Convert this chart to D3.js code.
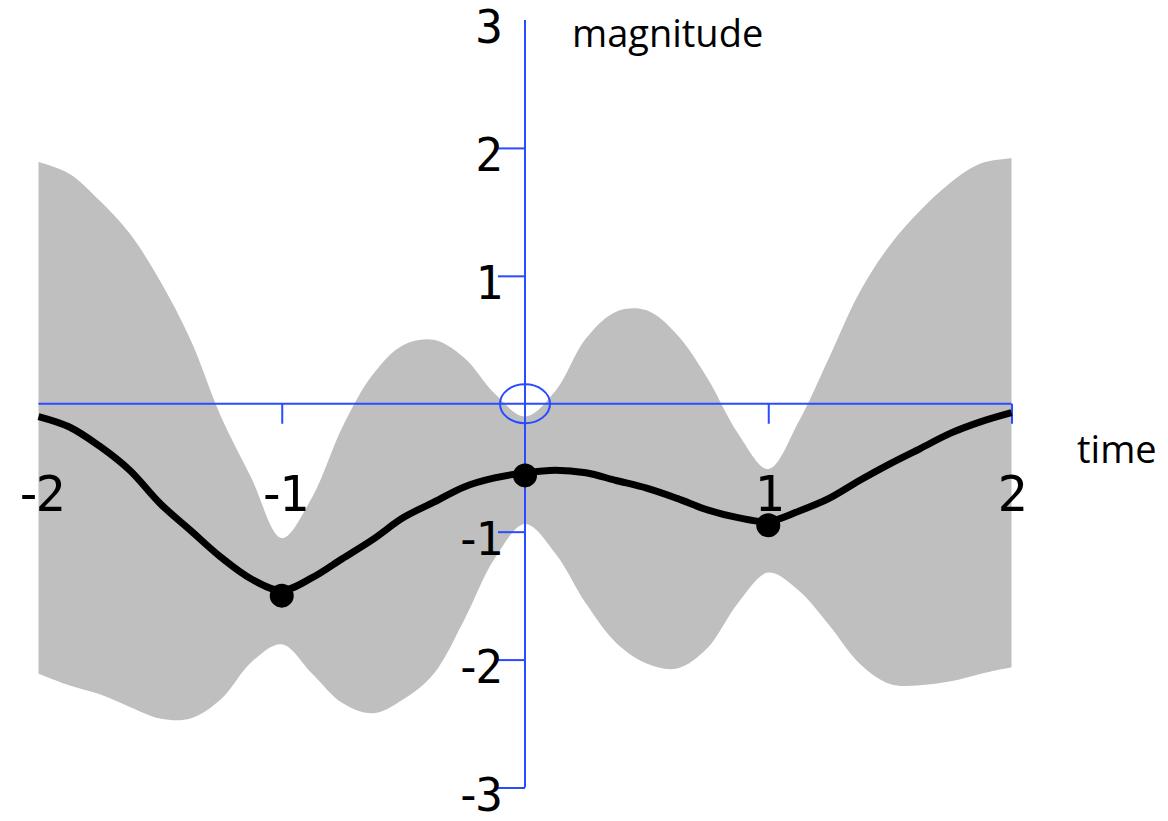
<!DOCTYPE html>
<html lang="en">
<head>
    <meta charset="UTF-8">
    <title>GP posterior</title>
    <style>
        body { margin: 0; background: #fff; }
    </style>
</head>
<body>
<script src="https://d3js.org/d3.v7.min.js"></script>

<div id="my_dataviz"></div>

<script>
// sample positions along time
var times = [-2, -1.875, -1.75, -1.625, -1.5, -1.375, -1.25, -1.125, -1,
             -0.875, -0.75, -0.625, -0.5, -0.375, -0.25, -0.125, 0,
             0.125, 0.25, 0.375, 0.5, 0.625, 0.75, 0.875, 1,
             1.125, 1.25, 1.375, 1.5, 1.625, 1.75, 1.875, 2];

// posterior mean (black curve)
var meanVals = [-0.10, -0.18, -0.33, -0.52, -0.78, -0.99, -1.20, -1.37, -1.46,
                -1.36, -1.21, -1.06, -0.89, -0.77, -0.65, -0.58, -0.54,
                -0.52, -0.54, -0.60, -0.66, -0.74, -0.83, -0.89, -0.92,
                -0.84, -0.74, -0.60, -0.47, -0.35, -0.23, -0.14, -0.07];

// upper edge of grey band
var upperVals = [1.89, 1.80, 1.59, 1.33, 0.96, 0.50, -0.10, -0.58, -1.05,
                 -0.73, -0.18, 0.23, 0.46, 0.50, 0.36, 0.08, -0.10,
                 0.10, 0.51, 0.72, 0.73, 0.54, 0.20, -0.23, -0.51,
                 -0.14, 0.36, 0.87, 1.24, 1.51, 1.73, 1.88, 1.92];

// lower edge of grey band
var lowerVals = [-2.11, -2.20, -2.27, -2.37, -2.46, -2.46, -2.31, -2.02, -1.88,
                 -2.11, -2.34, -2.42, -2.31, -2.11, -1.69, -1.21, -0.94,
                 -1.17, -1.56, -1.87, -2.03, -2.07, -1.91, -1.56, -1.32,
                 -1.46, -1.73, -2.03, -2.19, -2.20, -2.17, -2.11, -2.06];

// observations
var obsTime = [-1, 0, 1];
var obsVal = [-1.5, -0.56, -0.95];

var xTicks = [-1, 1, 2];
var xLabels = [-2, -1, 1, 2];
var yTicks = [-3, -2, -1, 1, 2];
var yLabels = [-3, -2, -1, 1, 2, 3];

var width = 1168,
    height = 821;
var blue = "#2a4bff";

var svg = d3.select("#my_dataviz")
    .append("svg")
    .attr("width", width)
    .attr("height", height);

var x = d3.scaleLinear().domain([-2, 2]).range([38.5, 1011.5]);
var y = d3.scaleLinear().domain([-3, 3]).range([787.5, 20]);

var rows = times.map(function(t, i) {
    return {t: t, m: meanVals[i], lo: lowerVals[i], hi: upperVals[i]};
});

var smooth = d3.curveCatmullRom.alpha(0.5);

// grey band
svg.append("path")
    .datum(rows)
    .attr("fill", "#bfbfbf")
    .attr("d", d3.area()
        .x(function(d) { return x(d.t); })
        .y0(function(d) { return y(d.lo); })
        .y1(function(d) { return y(d.hi); })
        .curve(smooth));

// x axis (ticks hang down)
var xAxis = svg.append("g")
    .attr("transform", "translate(0," + y(0) + ")")
    .call(d3.axisBottom(x).tickValues(xTicks).tickSize(20).tickFormat(""));
xAxis.select(".domain").attr("d", "M" + x(-2) + ",0H" + x(2));
xAxis.selectAll("path, line").attr("stroke", blue).attr("stroke-width", 2);

// y axis (ticks to the left)
var yAxis = svg.append("g")
    .attr("transform", "translate(" + x(0) + ",0)")
    .call(d3.axisLeft(y).tickValues(yTicks).tickSize(27).tickFormat(""));
yAxis.select(".domain").attr("d", "M0," + y(3) + "V" + y(-3));
yAxis.selectAll("path, line").attr("stroke", blue).attr("stroke-width", 2);

// little ellipse at the origin
svg.append("ellipse")
    .attr("cx", x(0))
    .attr("cy", y(0))
    .attr("rx", 25)
    .attr("ry", 19.5)
    .attr("fill", "none")
    .attr("stroke", blue)
    .attr("stroke-width", 2);

// mean curve
svg.append("path")
    .datum(rows)
    .attr("fill", "none")
    .attr("stroke", "#000")
    .attr("stroke-width", 7)
    .attr("stroke-linejoin", "round")
    .attr("d", d3.line()
        .x(function(d) { return x(d.t); })
        .y(function(d) { return y(d.m); })
        .curve(smooth));

// observation dots
svg.selectAll("dots")
    .data(obsTime)
    .enter()
    .append("circle")
    .attr("cx", function(d) { return x(d); })
    .attr("cy", function(d, i) { return y(obsVal[i]); })
    .attr("r", 12)
    .attr("fill", "#000");

// tick labels
svg.selectAll("xlabels")
    .data(xLabels)
    .enter()
    .append("text")
    .attr("x", function(d) { return x(d) - 3; })
    .attr("y", 511)
    .attr("text-anchor", "middle")
    .style("font-family", "DejaVu Sans Mono")
    .style("font-size", "50px")
    .style("letter-spacing", "-8px")
    .text(function(d) { return d; });

svg.selectAll("ylabels")
    .data(yLabels)
    .enter()
    .append("text")
    .attr("x", 496)
    .attr("y", function(d) { return y(d) + 23; })
    .attr("text-anchor", "end")
    .style("font-family", "DejaVu Sans Mono")
    .style("font-size", "46px")
    .style("letter-spacing", "-7px")
    .text(function(d) { return d; });

// axis titles
svg.append("text")
    .attr("x", 572)
    .attr("y", 47)
    .style("font-family", "Open Sans")
    .style("font-size", "38px")
    .text("magnitude");

svg.append("text")
    .attr("x", 1077)
    .attr("y", 463)
    .style("font-family", "Open Sans")
    .style("font-size", "38px")
    .text("time");
</script>

</body>
</html>
